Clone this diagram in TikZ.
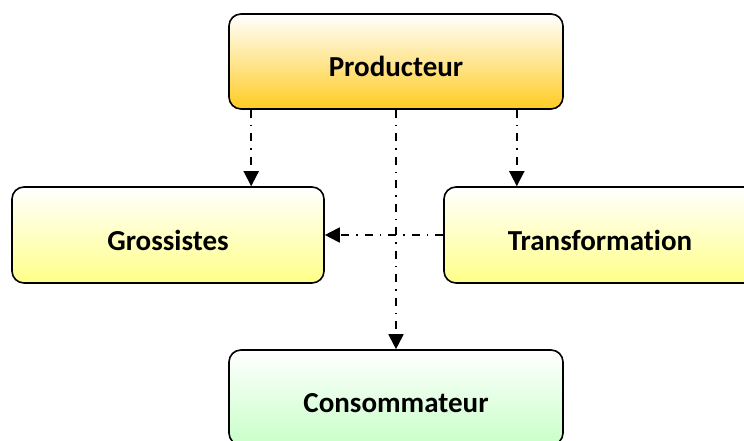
\documentclass[tikz,border=0pt]{standalone}
\usepackage{fontspec}
\setmainfont[RawFeature=-liga]{Carlito}
\usepackage{tikz}
\usepackage[dvipsnames]{xcolor}
\usetikzlibrary{arrows.meta}

\definecolor{prodgold}{RGB}{255,204,34}
\definecolor{prodpeach}{RGB}{255,228,180}
\definecolor{boxyellow}{RGB}{255,255,136}
\definecolor{boxpale}{RGB}{255,255,205}
\definecolor{boxgreen}{RGB}{200,255,200}
\definecolor{greenpale}{RGB}{230,255,230}

\begin{document}
\begin{tikzpicture}[x=1pt, y=1pt,
    box/.style={draw=black, line width=1.6pt, rounded corners=12pt,
                font=\bfseries\fontsize{29}{34}\selectfont, align=center,
                text height=30pt, text depth=0pt},
    flow/.style={line width=1.8pt, dash pattern=on 8pt off 7pt on 1.5pt off 7pt,
                 -{Triangle[length=15pt,width=15pt]}}]

          % Fix the page to the reference size
          \useasboundingbox (0,0) rectangle (744,440);

          % The four boxes
          \node[box, top color=white, middle color=prodpeach, bottom color=prodgold,
                minimum width=334pt, minimum height=95pt] (prod) at (396,378.5) {Producteur};
          \node[box, top color=white, middle color=boxpale, bottom color=boxyellow,
                minimum width=312pt, minimum height=96pt] (gros) at (168,205) {Grossistes};
          \node[box, top color=white, middle color=boxpale, bottom color=boxyellow,
                minimum width=312pt, minimum height=96pt] (trans) at (600,205) {Transformation};
          \node[box, top color=white, middle color=greenpale, bottom color=boxgreen,
                minimum width=334pt, minimum height=95pt] (cons) at (396,42.5) {Consommateur};

          % Flows between the boxes
          \draw[flow] ([xshift=23pt]prod.south west) -- ([xshift=23pt]prod.south west |- gros.north);
          \draw[flow] ([xshift=-47pt]prod.south east) -- ([xshift=-47pt]prod.south east |- trans.north);
          \draw[flow] (prod.south) -- (cons.north);
          \draw[flow] (trans.west) -- (gros.east);

      \end{tikzpicture}
\end{document}
